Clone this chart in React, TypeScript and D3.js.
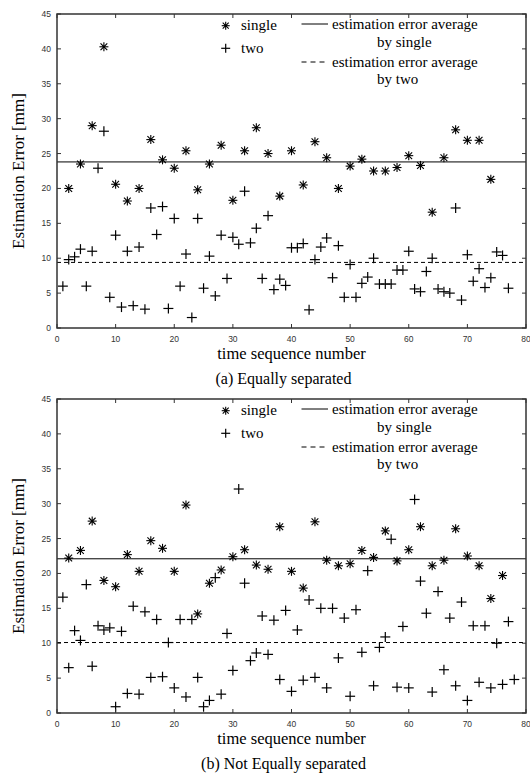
import React from 'react';
import * as d3 from 'd3';

// x ticks and y ticks shared by both panels
const xTicks = [0, 10, 20, 30, 40, 50, 60, 70, 80];
const yTicks = [0, 5, 10, 15, 20, 25, 30, 35, 40, 45];

// (a) equally separated: single at x = 2,4,...,74 ; two at x = 1..77
const equalSingle = [
  20.0, 23.5, 29.0, 40.3, 20.6, 18.2, 20.0, 27.0, 24.1, 22.9, 25.4, 19.8, 23.5, 26.2, 18.3, 25.4, 28.7, 25.0, 18.9,
  25.4, 20.5, 26.7, 24.4, 20.0, 23.2, 24.2, 22.5, 22.5, 23.0, 24.7, 23.3, 16.6, 24.4, 28.4, 26.9, 26.9, 21.3,
];
const equalTwo = [
  6.0, 9.8, 10.2, 11.3, 6.0, 11.0, 22.9, 28.2, 4.4, 13.3, 3.0, 11.0, 3.2, 11.6, 2.7, 17.2, 13.4, 17.4, 2.8, 15.7,
  6.0, 10.6, 1.5, 15.7, 5.7, 10.3, 4.6, 13.3, 7.1, 13.0, 12.0, 19.6, 12.2, 14.3, 7.1, 16.1, 5.5, 7.0, 6.1, 11.5,
  11.5, 12.1, 2.6, 9.8, 11.6, 12.9, 7.2, 11.8, 4.4, 9.1, 4.4, 6.4, 7.3, 10.0, 6.3, 6.3, 6.3, 8.3, 8.3, 11.0,
  5.6, 5.2, 8.1, 10.0, 5.6, 5.2, 5.0, 17.2, 4.0, 10.5, 6.7, 8.5, 5.8, 7.2, 10.9, 10.4, 5.7,
];
const equalAvg = { single: 23.8, two: 9.4 };

// (b) not equally separated: single at x = 2,4,...,76 ; two at x = 1..78
const notEqualSingle = [
  22.2, 23.3, 27.5, 19.0, 18.1, 22.7, 20.3, 24.7, 23.6, 20.3, 29.8, 14.2, 18.6, 20.5, 22.4, 23.4, 21.2, 20.6, 26.7,
  20.3, 17.9, 27.4, 21.9, 21.1, 21.4, 23.3, 22.3, 26.1, 21.8, 23.4, 26.7, 21.1, 21.9, 26.4, 22.5, 21.1, 16.4, 19.7,
];
const notEqualTwo = [
  16.6, 6.5, 11.8, 10.4, 18.4, 6.7, 12.5, 11.9, 12.2, 0.9, 11.7, 2.8, 15.3, 2.7, 14.5, 5.1, 13.4, 5.2, 10.1, 3.6,
  13.4, 2.3, 13.4, 5.1, 0.9, 1.8, 19.4, 2.7, 11.4, 6.1, 32.1, 18.6, 7.5, 8.6, 13.9, 8.4, 13.3, 4.8, 14.7, 3.1,
  11.9, 4.7, 16.2, 5.1, 15.0, 3.6, 15.0, 7.9, 13.6, 2.4, 14.8, 8.7, 20.4, 3.9, 9.4, 10.9, 24.9, 3.7, 12.4, 3.6,
  30.6, 18.9, 14.3, 3.0, 17.4, 6.2, 13.6, 3.9, 15.9, 1.8, 12.5, 4.4, 12.5, 3.6, 10.0, 4.1, 13.1, 4.8,
];
const notEqualAvg = { single: 22.1, two: 10.1 };

const serif = '"Liberation Serif", "Times New Roman", serif';
const sans = '"Liberation Sans", Arial, sans-serif';

const plotLeft = 57;
const plotRight = 526;
const plotHeight = 314;

function Star({ x, y, s = 4.5 }: { x: number; y: number; s?: number }) {
  const d = s * 0.75;
  return (
    <g stroke="#000" strokeWidth={1.1}>
      <line x1={x} y1={y - s} x2={x} y2={y + s} />
      <line x1={x - s} y1={y} x2={x + s} y2={y} />
      <line x1={x - d} y1={y - d} x2={x + d} y2={y + d} />
      <line x1={x - d} y1={y + d} x2={x + d} y2={y - d} />
      <circle cx={x} cy={y} r={1.3} fill="#000" stroke="none" />
    </g>
  );
}

function Cross({ x, y, s = 5 }: { x: number; y: number; s?: number }) {
  return (
    <g stroke="#000" strokeWidth={1.2}>
      <line x1={x} y1={y - s} x2={x} y2={y + s} />
      <line x1={x - s} y1={y} x2={x + s} y2={y} />
    </g>
  );
}

function Panel({ top, single, two, avg, caption }: {
  top: number; single: number[]; two: number[]; avg: { single: number; two: number }; caption: string;
}) {
  const x = d3.scaleLinear().domain([0, 80]).range([plotLeft, plotRight]);
  const y = d3.scaleLinear().domain([0, 45]).range([top + plotHeight, top]);
  const bottom = top + plotHeight;
  const tick = 4;

  return (
    <g>
      {/* average lines */}
      <line x1={plotLeft} x2={plotRight} y1={y(avg.single)} y2={y(avg.single)} stroke="#000" strokeWidth={1} />
      <line x1={plotLeft} x2={plotRight} y1={y(avg.two)} y2={y(avg.two)} stroke="#000" strokeWidth={1} strokeDasharray="4,3" />

      {two.map((v, i) => <Cross key={'t' + i} x={x(i + 1)} y={y(v)} />)}
      {single.map((v, i) => <Star key={'s' + i} x={x(2 * (i + 1))} y={y(v)} />)}

      {/* frame */}
      <rect x={plotLeft} y={top} width={plotRight - plotLeft} height={plotHeight} fill="none" stroke="#333" strokeWidth={1.5} />
      {xTicks.map(t => (
        <g key={'xt' + t}>
          <line x1={x(t)} x2={x(t)} y1={bottom} y2={bottom - tick} stroke="#333" />
          <line x1={x(t)} x2={x(t)} y1={top} y2={top + tick} stroke="#333" />
          <text x={x(t)} y={bottom + 13.5} textAnchor="middle" fontFamily={sans} fontSize={8.5} fill="#333">{t}</text>
        </g>
      ))}
      {yTicks.map(t => (
        <g key={'yt' + t}>
          <line x1={plotLeft} x2={plotLeft + tick} y1={y(t)} y2={y(t)} stroke="#333" />
          <line x1={plotRight} x2={plotRight - tick} y1={y(t)} y2={y(t)} stroke="#333" />
          <text x={plotLeft - 6} y={y(t) + 3} textAnchor="end" fontFamily={sans} fontSize={8.5} fill="#333">{t}</text>
        </g>
      ))}

      {/* legend */}
      <Star x={225.7} y={top + 11.7} s={4} />
      <text x={241} y={top + 16} fontFamily={serif} fontSize={15}>single</text>
      <Cross x={225.7} y={top + 34.3} s={4.5} />
      <text x={241} y={top + 38.5} fontFamily={serif} fontSize={15}>two</text>

      <line x1={301.5} x2={328} y1={top + 10} y2={top + 10} stroke="#000" />
      <text x={332} y={top + 15} fontFamily={serif} fontSize={15}>estimation error average</text>
      <text x={377} y={top + 32.5} fontFamily={serif} fontSize={15}>by single</text>
      <line x1={301.5} x2={328} y1={top + 48} y2={top + 48} stroke="#000" strokeDasharray="5,4" />
      <text x={332} y={top + 52.5} fontFamily={serif} fontSize={15}>estimation error average</text>
      <text x={377} y={top + 70} fontFamily={serif} fontSize={15}>by two</text>

      {/* titles */}
      <text transform={`translate(24, ${(top + bottom) / 2}) rotate(-90)`} textAnchor="middle" fontFamily={serif} fontSize={17}>
        Estimation Error [mm]
      </text>
      <text x={(plotLeft + plotRight) / 2} y={bottom + 31} textAnchor="middle" fontFamily={serif} fontSize={16.5}>
        time sequence number
      </text>
      <text x={(plotLeft + plotRight) / 2 - 8} y={bottom + 56} textAnchor="middle" fontFamily={serif} fontSize={16}>
        {caption}
      </text>
    </g>
  );
}

export default function App() {
  return (
    <svg width={530} height={774} style={{ position: 'absolute', left: 0, top: 0, background: '#fff' }}>
      <Panel top={14} single={equalSingle} two={equalTwo} avg={equalAvg} caption="(a) Equally separated" />
      <Panel top={399} single={notEqualSingle} two={notEqualTwo} avg={notEqualAvg} caption="(b) Not Equally separated" />
    </svg>
  );
}
